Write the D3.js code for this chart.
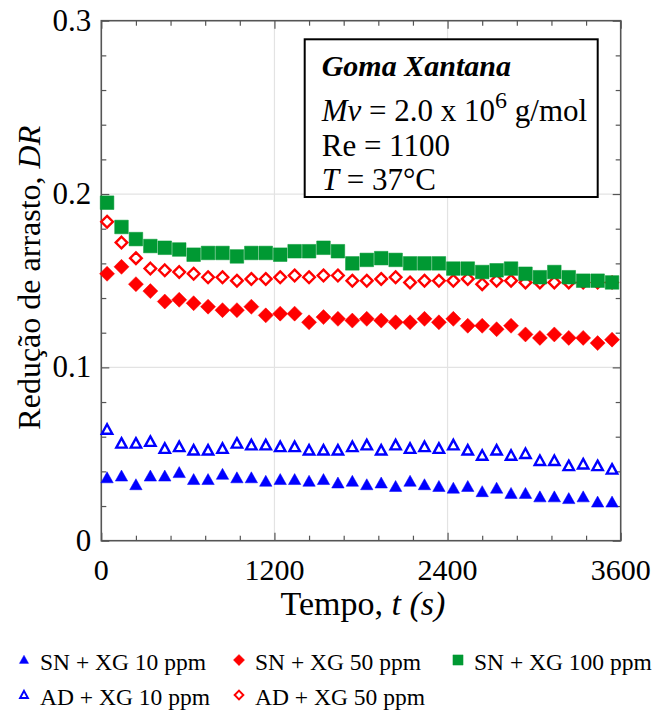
<!DOCTYPE html>
<html>
<head>
<meta charset="utf-8">
<script src="https://cdn.jsdelivr.net/npm/d3@7"></script>
<style>
  body { margin: 0; background: #fff; }
  text { font-family: "Liberation Serif", "Times New Roman", serif; fill: #000; }
</style>
</head>
<body>
<div id="chart"></div>
<script>
"use strict";

// time in seconds (x values shared by all series)
var timeSec = [40, 140, 240, 340, 440, 540, 640, 740, 840, 940, 1040, 1140,
    1240, 1340, 1440, 1540, 1640, 1740, 1840, 1940, 2040, 2140, 2240, 2340,
    2440, 2540, 2640, 2740, 2840, 2940, 3040, 3140, 3240, 3340, 3440, 3540];

// drag reduction DR for each series
var snXg10 = [0.036, 0.037, 0.032, 0.037, 0.037, 0.039, 0.035, 0.035, 0.038, 0.036, 0.036, 0.034,
    0.035, 0.035, 0.034, 0.035, 0.033, 0.034, 0.032, 0.033, 0.031, 0.034, 0.032, 0.031,
    0.030, 0.031, 0.028, 0.030, 0.027, 0.027, 0.025, 0.025, 0.024, 0.025, 0.022, 0.022];
var snXg50 = [0.154, 0.158, 0.148, 0.144, 0.138, 0.139, 0.137, 0.135, 0.133, 0.133, 0.135, 0.130,
    0.131, 0.131, 0.126, 0.129, 0.128, 0.127, 0.128, 0.127, 0.126, 0.126, 0.128, 0.126,
    0.128, 0.124, 0.124, 0.122, 0.124, 0.119, 0.117, 0.119, 0.117, 0.117, 0.114, 0.116];
var snXg100 = [0.195, 0.181, 0.174, 0.170, 0.169, 0.168, 0.165, 0.166, 0.166, 0.164, 0.166, 0.166,
    0.165, 0.167, 0.167, 0.169, 0.167, 0.160, 0.162, 0.163, 0.162, 0.160, 0.160, 0.160,
    0.157, 0.157, 0.155, 0.156, 0.157, 0.154, 0.152, 0.155, 0.152, 0.150, 0.150, 0.149];
var adXg10 = [0.064, 0.056, 0.056, 0.057, 0.053, 0.054, 0.052, 0.052, 0.053, 0.056, 0.055, 0.055,
    0.054, 0.054, 0.052, 0.052, 0.052, 0.054, 0.055, 0.052, 0.055, 0.053, 0.054, 0.053,
    0.055, 0.052, 0.049, 0.052, 0.049, 0.050, 0.046, 0.046, 0.043, 0.044, 0.043, 0.041];
var adXg50 = [0.184, 0.172, 0.163, 0.157, 0.156, 0.155, 0.154, 0.152, 0.152, 0.150, 0.151, 0.151,
    0.152, 0.153, 0.152, 0.153, 0.153, 0.150, 0.150, 0.151, 0.152, 0.149, 0.150, 0.150,
    0.150, 0.151, 0.148, 0.150, 0.150, 0.149, 0.149, 0.149, 0.149, 0.149, 0.149, 0.149];

// tick values
var xTicks = [0, 1200, 2400, 3600];
var xMinorTicks = [240, 480, 720, 960, 1440, 1680, 1920, 2160, 2640, 2880, 3120, 3360];
var yTicks = [0, 0.1, 0.2, 0.3];
var yMinorTicks = [0.02, 0.04, 0.06, 0.08, 0.12, 0.14, 0.16, 0.18, 0.22, 0.24, 0.26, 0.28];

var seriesNames = ["SN + XG 10 ppm", "SN + XG 50 ppm", "SN + XG 100 ppm",
    "AD + XG 10 ppm", "AD + XG 50 ppm"];

// marker shapes (path strings centred on 0,0)
var shapes = {
    triangle: "M0,-6.5L6.2,4.5L-6.2,4.5Z",
    triangleOpen: "M0,-5.5L5.2,4L-5.2,4Z",
    diamond: "M0,-7.5L7.5,0L0,7.5L-7.5,0Z",
    diamondOpen: "M0,-5.8L5.8,0L0,5.8L-5.8,0Z",
    square: "M-6.8,-6.8H6.8V6.8H-6.8Z"
};

var series = [
    {name: seriesNames[3], values: adXg10, shape: "triangleOpen", color: "#0000ff", filled: false},
    {name: seriesNames[4], values: adXg50, shape: "diamondOpen", color: "#ff0000", filled: false},
    {name: seriesNames[0], values: snXg10, shape: "triangle", color: "#0000ff", filled: true},
    {name: seriesNames[1], values: snXg50, shape: "diamond", color: "#ff0000", filled: true},
    {name: seriesNames[2], values: snXg100, shape: "square", color: "#009933", filled: true}
];

var width = 657, height = 715;
var margin = {left: 101.3, right: 36.3, top: 20.7, bottom: 174.3};
var plotW = width - margin.left - margin.right,
    plotH = height - margin.top - margin.bottom;

var svg = d3.select("#chart").append("svg")
    .attr("width", width)
    .attr("height", height);

var g = svg.append("g")
    .attr("transform", "translate(" + margin.left + "," + margin.top + ")");

var x = d3.scaleLinear().domain([0, 3600]).range([0, plotW]);
var y = d3.scaleLinear().domain([0, 0.3]).range([plotH, 0]);

// light grid on the inner major ticks
g.selectAll(".gx").data([1200, 2400]).enter().append("line")
    .attr("x1", function (d) { return x(d); })
    .attr("x2", function (d) { return x(d); })
    .attr("y1", 0).attr("y2", plotH)
    .attr("stroke", "#e3e3e3").attr("stroke-width", 1.2);
g.selectAll(".gy").data([0.1, 0.2]).enter().append("line")
    .attr("y1", function (d) { return y(d); })
    .attr("y2", function (d) { return y(d); })
    .attr("x1", 0).attr("x2", plotW)
    .attr("stroke", "#e3e3e3").attr("stroke-width", 1.2);

// axes with inward ticks on all four sides
var axisColor = "#555";
function styleAxis(sel) {
    sel.select(".domain").remove();
    sel.selectAll(".tick line").attr("stroke", axisColor).attr("stroke-width", 1.2);
    sel.selectAll(".tick text").remove();
}
function addAxis(axisFn, scale, ticks, size, tx, ty) {
    g.append("g")
        .attr("transform", "translate(" + tx + "," + ty + ")")
        .call(axisFn(scale).tickValues(ticks).tickSize(size).tickSizeOuter(0))
        .call(styleAxis);
}
addAxis(d3.axisBottom, x, xTicks, -8, 0, plotH);
addAxis(d3.axisBottom, x, xMinorTicks, -5, 0, plotH);
addAxis(d3.axisTop, x, xTicks, -8, 0, 0);
addAxis(d3.axisTop, x, xMinorTicks, -5, 0, 0);
addAxis(d3.axisLeft, y, yTicks, -8, 0, 0);
addAxis(d3.axisLeft, y, yMinorTicks, -5, 0, 0);
addAxis(d3.axisRight, y, yTicks, -8, plotW, 0);
addAxis(d3.axisRight, y, yMinorTicks, -5, plotW, 0);

g.append("rect")
    .attr("width", plotW).attr("height", plotH)
    .attr("fill", "none")
    .attr("stroke", axisColor).attr("stroke-width", 1.6);

// tick labels
g.selectAll(".xl").data(xTicks).enter().append("text")
    .attr("x", function (d) { return x(d); })
    .attr("y", plotH + 39)
    .attr("text-anchor", "middle")
    .style("font-size", "30px")
    .text(function (d) { return d; });
g.selectAll(".yl").data(yTicks).enter().append("text")
    .attr("x", -10)
    .attr("y", function (d) { return y(d) + 10; })
    .attr("text-anchor", "end")
    .style("font-size", "31px")
    .text(function (d) { return d === 0 ? "0" : d3.format(".1f")(d); });

// axis titles
var xt = g.append("text")
    .attr("x", plotW / 2 + 2)
    .attr("y", plotH + 74)
    .attr("text-anchor", "middle")
    .style("font-size", "34px");
xt.append("tspan").text("Tempo, ");
xt.append("tspan").style("font-style", "italic").text("t (s)");

var yt = svg.append("text")
    .attr("transform", "translate(40," + (margin.top + plotH / 2 - 3) + ") rotate(-90)")
    .attr("text-anchor", "middle")
    .style("font-size", "32px");
yt.append("tspan").text("Redução de arrasto, ");
yt.append("tspan").style("font-style", "italic").text("DR");

// annotation box
var box = g.append("g").attr("transform", "translate(" + (304.7 - margin.left) + "," + (39.3 - margin.top) + ")");
box.append("rect")
    .attr("width", 293).attr("height", 157.7)
    .attr("fill", "#fff")
    .attr("stroke", "#000").attr("stroke-width", 2);
box.append("text")
    .attr("x", 17).attr("y", 37)
    .style("font-size", "30px").style("font-weight", "bold").style("font-style", "italic")
    .text("Goma Xantana");
var l2 = box.append("text").attr("x", 17).attr("y", 82).style("font-size", "31px");
l2.append("tspan").style("font-style", "italic").text("Mv");
l2.append("tspan").text(" = 2.0 x 10");
l2.append("tspan").attr("dy", -13).style("font-size", "24px").text("6");
l2.append("tspan").attr("dy", 13).text(" g/mol");
box.append("text").attr("x", 17).attr("y", 117).style("font-size", "31px").text("Re = 1100");
var l4 = box.append("text").attr("x", 17).attr("y", 151).style("font-size", "31px");
l4.append("tspan").style("font-style", "italic").text("T");
l4.append("tspan").text(" = 37°C");

// data markers
series.forEach(function (s) {
    g.append("g").selectAll("path")
        .data(s.values)
        .enter().append("path")
        .attr("d", shapes[s.shape])
        .attr("transform", function (d, i) {
            return "translate(" + x(timeSec[i]) + "," + y(d) + ")";
        })
        .attr("fill", s.filled ? s.color : "#fff")
        .attr("stroke", s.color)
        .attr("stroke-width", s.filled ? 0.5 : 2.4);
});

// legend below the chart
var legendItems = [
    {s: series[2], lx: 24, ly: 662},
    {s: series[3], lx: 239, ly: 662},
    {s: series[4], lx: 458, ly: 662},
    {s: series[0], lx: 24, ly: 697},
    {s: series[1], lx: 239, ly: 697}
];
var legend = svg.append("g");
legendItems.forEach(function (it) {
    var s = it.s;
    legend.append("path")
        .attr("d", shapes[s.shape])
        .attr("transform", "translate(" + it.lx + "," + (it.ly - 2) + ") scale(0.75)")
        .attr("fill", s.filled ? s.color : "#fff")
        .attr("stroke", s.color)
        .attr("stroke-width", s.filled ? 0.5 : 2.6);
    legend.append("text")
        .attr("x", it.lx + 16)
        .attr("y", it.ly + 8)
        .style("font-size", "23.5px")
        .text(s.name);
});
</script>
</body>
</html>
